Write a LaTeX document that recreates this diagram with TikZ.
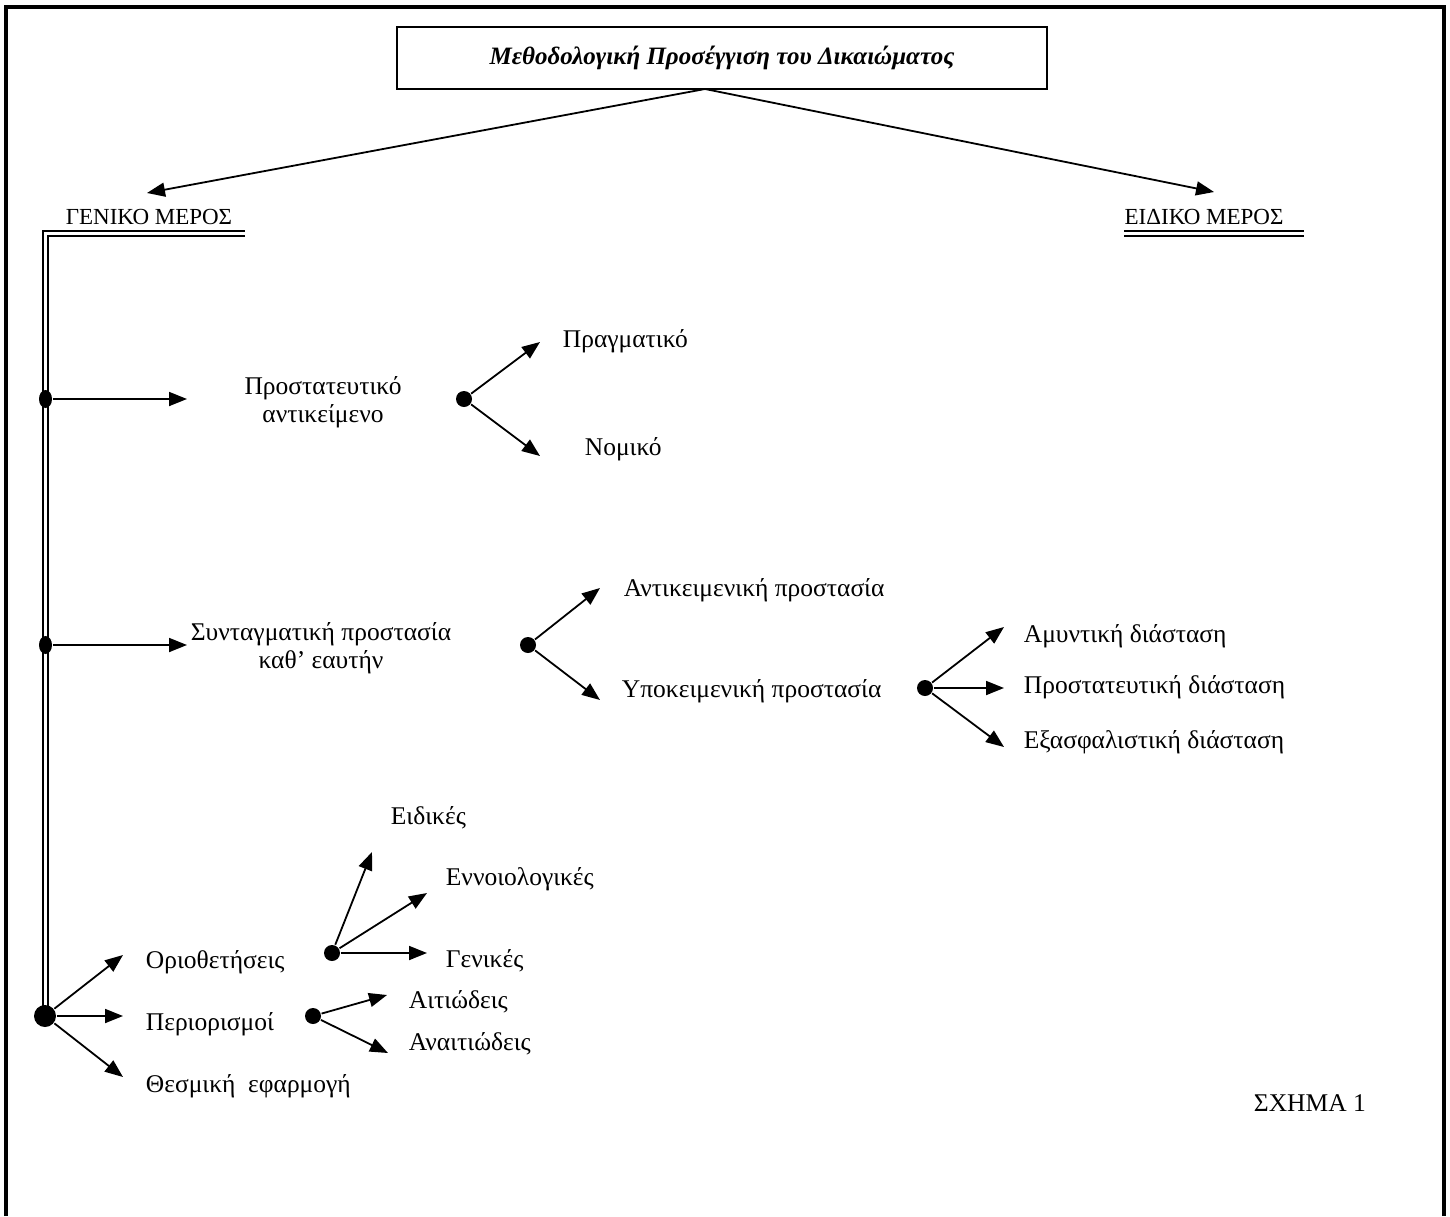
\documentclass[tikz,border=0pt]{standalone}
\usepackage{fontspec}
\setmainfont{Liberation Serif}
\usepackage{tikz}
\usetikzlibrary{arrows.meta, positioning, calc, shapes.geometric}
\tikzset{
    dot/.style={
        circle,
        fill=black,
        inner sep=0pt,
        minimum size=8pt,
    },
    tdot/.style={
        ellipse,
        fill=black,
        inner sep=0pt,
        minimum width=6.5pt,
        minimum height=9pt,
    },
    bigdot/.style={
        circle,
        fill=black,
        inner sep=0pt,
        minimum size=11pt,
    },
    lbl/.style={
        anchor=base west,
        inner sep=0pt,
        font=\fontsize{12.75}{14}\selectfont,
    },
    two/.style={
        align=center,
        inner sep=0pt,
        font=\fontsize{12.75}{14}\selectfont,
    },
    part/.style={
        anchor=base,
        inner sep=0pt,
        font=\fontsize{11.5}{15}\selectfont,
    },
    titlebox/.style={
        draw,
        line width=0.8pt,
        minimum width=325pt,
        minimum height=31pt,
        font=\fontsize{12.5}{15}\selectfont\bfseries\itshape,
    },
    dbl/.style={
        double,
        double distance=1.5pt,
        line width=0.9pt,
    },
}
\begin{document}
\begin{tikzpicture}[x=0.5pt,y=-0.5pt,>={Triangle[length=9pt,width=7pt]},line width=0.9pt]
  \useasboundingbox (0,0) rectangle (1450,1216);
  \draw[line width=1.6pt] (6,1216) -- (6,7) -- (1444,7) -- (1444,1216);

  \node [titlebox] (T) at (722,58) {Μεθοδολογική Προσέγγιση του Δικαιώματος};
  \coordinate (apex) at (705,89);
  \coordinate (gtip) at (147,193);
  \coordinate (etip) at (1214,192);
  \node [part] (G) at (149,224) {ΓΕΝΙΚΟ ΜΕΡΟΣ};
  \node [part] (E) at (1204,224) {ΕΙΔΙΚΟ ΜΕΡΟΣ};
  \draw[->] (apex) -- (gtip);
  \draw[->] (apex) -- (etip);
  \draw[dbl] (1124,233.5) -- (1304,233.5);
  \draw[dbl] (245,233.5) -- (45.5,233.5) -- (45.5,1016);

  \node [tdot] (p0) at (45.5,399) {};
  \coordinate (p0t) at (187,399);
  \node [two] (P) at (323,402) {Προστατευτικό\\αντικείμενο};
  \node [dot] (p1) at (464,399) {};
  \coordinate (p1a) at (540,342);
  \coordinate (p1b) at (540,456);
  \node [lbl] (Pa) at (562,347) {Πραγματικό};
  \node [lbl] (Pb) at (584,455) {Νομικό};
  \draw[->] (p0) -- (p0t);
  \draw[->] (p1) -- (p1a);
  \draw[->] (p1) -- (p1b);

  \node [tdot] (s0) at (45.5,645) {};
  \coordinate (s0t) at (187,645);
  \node [two] (S) at (321,648) {Συνταγματική προστασία\\καθ’ εαυτήν};
  \node [dot] (s1) at (528,645) {};
  \coordinate (s1a) at (600,588);
  \coordinate (s1b) at (600,700);
  \node [lbl] (Sa) at (623,596) {Αντικειμενική προστασία};
  \node [lbl] (Sb) at (621,697) {Υποκειμενική προστασία};
  \draw[->] (s0) -- (s0t);
  \draw[->] (s1) -- (s1a);
  \draw[->] (s1) -- (s1b);

  \node [dot] (u1) at (925,688) {};
  \coordinate (u1a) at (1004,627);
  \coordinate (u1b) at (1004,688);
  \coordinate (u1c) at (1004,747);
  \node [lbl] (Ua) at (1023,642) {Αμυντική διάσταση};
  \node [lbl] (Ub) at (1023,693) {Προστατευτική διάσταση};
  \node [lbl] (Uc) at (1023,748) {Εξασφαλιστική διάσταση};
  \draw[->] (u1) -- (u1a);
  \draw[->] (u1) -- (u1b);
  \draw[->] (u1) -- (u1c);

  \node [bigdot] (b0) at (45,1016) {};
  \coordinate (b0a) at (123,955);
  \coordinate (b0b) at (123,1016);
  \coordinate (b0c) at (123,1077);
  \node [lbl] (Oa) at (145,968) {Οριοθετήσεις};
  \node [lbl] (Ob) at (145,1030) {Περιορισμοί};
  \node [lbl] (Oc) at (145,1092) {Θεσμική\enspace εφαρμογή};
  \draw[->] (b0) -- (b0a);
  \draw[->] (b0) -- (b0b);
  \draw[->] (b0) -- (b0c);

  \node [dot] (o1) at (332,953) {};
  \coordinate (o1a) at (372,852);
  \coordinate (o1b) at (427,893);
  \coordinate (o1c) at (427,953);
  \node [lbl] (Ea) at (390,824) {Ειδικές};
  \node [lbl] (Eb) at (445,885) {Εννοιολογικές};
  \node [lbl] (Ec) at (445,967) {Γενικές};
  \draw[->] (o1) -- (o1a);
  \draw[->] (o1) -- (o1b);
  \draw[->] (o1) -- (o1c);

  \node [dot] (r1) at (313,1016) {};
  \coordinate (r1a) at (387,995);
  \coordinate (r1b) at (388,1053);
  \node [lbl] (Ra) at (408,1008) {Αιτιώδεις};
  \node [lbl] (Rb) at (408,1050) {Αναιτιώδεις};
  \draw[->] (r1) -- (r1a);
  \draw[->] (r1) -- (r1b);

  \node [lbl] (F) at (1253,1111) {ΣΧΗΜΑ 1};
\end{tikzpicture}
\end{document}
